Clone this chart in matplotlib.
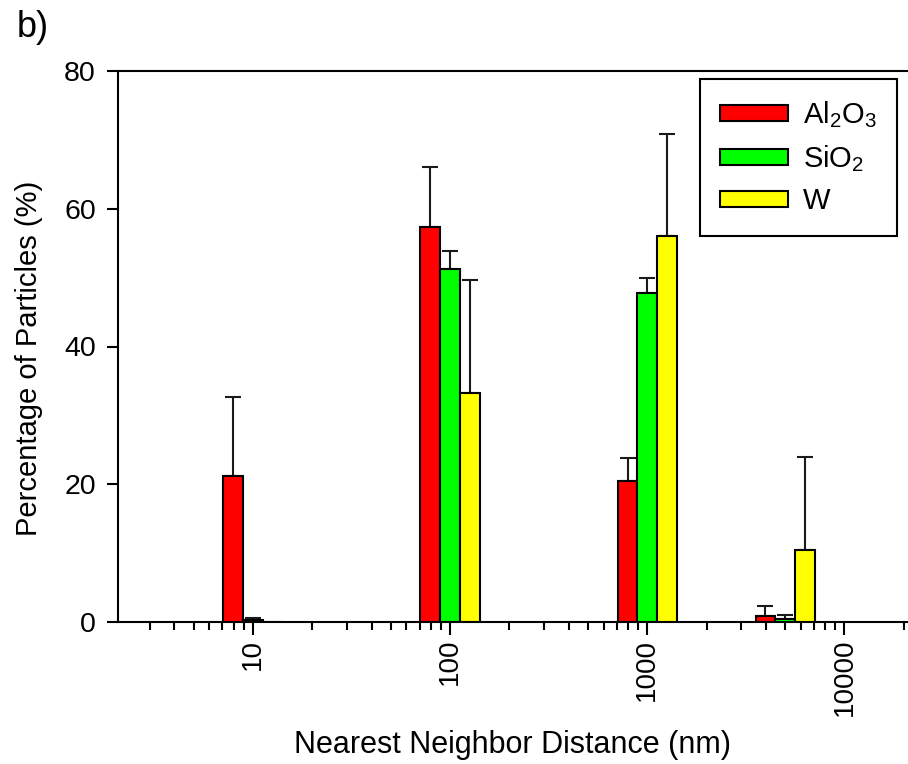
import numpy as np
import matplotlib
matplotlib.use("Agg")
import matplotlib.pyplot as plt

plt.rcParams['font.family'] = ['Liberation Sans', 'DejaVu Sans']
plt.rcParams['mathtext.default'] = 'regular'

# bin centres (nm)
categories = [10, 100, 1000, 5000]
tick_values = [10, 100, 1000, 10000]
tick_labels = ['10', '100', '1000', '10000']

series_names = [r'Al$_2$O$_3$', r'SiO$_2$', 'W']
al2o3 = [21.2, 57.4, 20.4, 0.9]
al2o3_err = [11.5, 8.7, 3.4, 1.4]
sio2 = [0.35, 51.3, 47.8, 0.4]
sio2_err = [0.2, 2.6, 2.2, 0.6]
w = [0.0, 33.3, 56.0, 10.4]
w_err = [0.0, 16.4, 14.8, 13.5]

colors = ['#ff0000', '#00ff00', '#ffff00']

fig = plt.figure(figsize=(9.08, 7.64), dpi=100)
ax = fig.add_axes([118/908, 1-622/764, 1-118/908, (622-71)/764])

data = [(al2o3, al2o3_err), (sio2, sio2_err), (w, w_err)]
width_dec = 0.1
handles = []
for k, ((vals, errs), col, name) in enumerate(zip(data, colors, series_names)):
    lc = np.log10(categories) + (k - 1) * width_dec
    left = 10 ** (lc - width_dec / 2)
    right = 10 ** (lc + width_dec / 2)
    h = ax.bar(left, vals, width=right - left, align='edge', color=col,
               edgecolor='black', linewidth=1.5, label=name, zorder=3)
    handles.append(h)
    centers = 10 ** lc
    vals_a = np.array(vals)
    errs_a = np.array(errs)
    m = vals_a > 0
    ax.errorbar(centers[m], vals_a[m], yerr=[np.zeros(m.sum()), errs_a[m]],
                fmt='none', ecolor='#1a1a1a', elinewidth=1.5, capsize=6,
                capthick=1.5, zorder=2)

ax.set_xscale('log')
ax.set_xlim(2.07, 21000)
ax.set_ylim(0, 80)
ax.set_yticks([0, 20, 40, 60, 80])
ax.set_xticks(tick_values)
ax.set_xticklabels(tick_labels, rotation=90)
ax.xaxis.set_minor_locator(matplotlib.ticker.LogLocator(base=10, subs=np.arange(2, 10)))
ax.xaxis.set_minor_formatter(matplotlib.ticker.NullFormatter())

for s in ['left', 'top', 'bottom']:
    ax.spines[s].set_linewidth(1.5)
ax.spines['right'].set_visible(False)

ax.tick_params(axis='y', which='major', direction='out', length=8, width=1.5,
               labelsize=20.5, pad=8)
ax.tick_params(axis='x', which='major', direction='out', length=9, width=1.5,
               labelsize=20, pad=3)
ax.tick_params(axis='x', which='minor', direction='out', length=5.5, width=1.5)

ax.set_xlabel('Nearest Neighbor Distance (nm)', fontsize=22, labelpad=10)
ax.set_ylabel('Percentage of Particles (%)', fontsize=21)
ax.yaxis.set_label_coords(-0.095, 0.478)

leg = ax.legend(handles=handles, loc='upper right',
                bbox_to_anchor=(897/908, 1-79/764), bbox_transform=fig.transFigure,
                fontsize=21, frameon=True, fancybox=False, framealpha=1,
                handlelength=2.33, handleheight=0.51, handletextpad=0.5,
                labelspacing=0.45, borderpad=0.7, borderaxespad=0)
leg.get_frame().set_edgecolor('black')
leg.get_frame().set_linewidth(1.5)

fig.text(17/908, 1-10/764, 'b)', fontsize=26, ha='left', va='top')

fig.savefig('out.png', dpi=100)
